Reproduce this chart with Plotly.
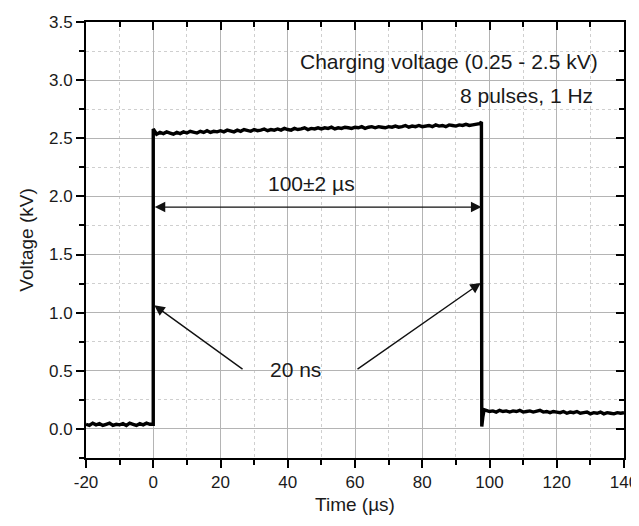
import plotly.graph_objects as go

# ---------------- data ----------------
base_t = list(range(-20, 1))
base_v = [0.04, 0.03, 0.05, 0.035, 0.045, 0.03, 0.04, 0.05, 0.03, 0.04,
          0.035, 0.045, 0.03, 0.05, 0.04, 0.03, 0.045, 0.035, 0.05, 0.04, 0.04]

pulse_t = list(range(0, 98)) + [97.6]
pulse_v = [2.58, 2.535, 2.55, 2.54, 2.555, 2.545, 2.535, 2.55, 2.54, 2.555,
           2.545, 2.56, 2.55, 2.545, 2.56, 2.55, 2.565, 2.55, 2.56, 2.555,
           2.565, 2.555, 2.57, 2.56, 2.555, 2.57, 2.56, 2.575, 2.565, 2.56,
           2.575, 2.565, 2.57, 2.58, 2.565, 2.575, 2.57, 2.58, 2.57, 2.585,
           2.575, 2.57, 2.585, 2.575, 2.58, 2.59, 2.575, 2.585, 2.58, 2.59,
           2.58, 2.59, 2.585, 2.595, 2.58, 2.59, 2.585, 2.595, 2.59, 2.585,
           2.595, 2.59, 2.6, 2.585, 2.595, 2.6, 2.59, 2.6, 2.595, 2.59,
           2.6, 2.595, 2.605, 2.595, 2.6, 2.61, 2.595, 2.605, 2.6, 2.61,
           2.6, 2.605, 2.61, 2.6, 2.615, 2.605, 2.61, 2.6, 2.615, 2.61,
           2.605, 2.615, 2.61, 2.62, 2.61, 2.615, 2.62, 2.625,
           2.64]

tail_t = [97.7, 98.0, 98.4] + list(range(99, 141))
tail_v = [0.02, 0.10, 0.165,
          0.16, 0.15, 0.155, 0.145, 0.16, 0.15, 0.155, 0.145, 0.155, 0.15,
          0.16, 0.145, 0.15, 0.155, 0.145, 0.15, 0.16, 0.145, 0.15, 0.14,
          0.15, 0.145, 0.14, 0.15, 0.135, 0.145, 0.14, 0.15, 0.135, 0.14,
          0.145, 0.13, 0.14, 0.135, 0.145, 0.13, 0.14, 0.135, 0.13, 0.14,
          0.135, 0.14]

time_us = base_t + pulse_t + tail_t
voltage_kv = base_v + pulse_v + tail_v

x_tick_vals = [-20, 0, 20, 40, 60, 80, 100, 120, 140]
x_tick_text = ["-20", "0", "20", "40", "60", "80", "100", "120", "140"]

x_range = [-20, 140]
y_range = [-0.25, 3.5]

FONT = "Arial, Liberation Sans, sans-serif"
GRID = "#b4b4b4"
MINOR_GRID = "#cfcfcf"
TXT = "#1a1a1a"

fig = go.Figure()
fig.add_trace(go.Scatter(x=time_us, y=voltage_kv, mode="lines",
                         line=dict(color="black", width=3.4),
                         showlegend=False, hoverinfo="skip"))
# dummy trace to activate mirrored axes (top / right, inward ticks)
fig.add_trace(go.Scatter(x=[None], y=[None], xaxis="x2", yaxis="y2",
                         showlegend=False, hoverinfo="skip"))

common = dict(showline=True, linewidth=2, linecolor="black", zeroline=False,
              tickcolor="black", tickwidth=1.5, automargin=False)
tick_font = dict(family=FONT, size=17, color=TXT)

# the page body adds an 8 px margin, so the figure is sized to fit the window
fig.update_layout(
    width=631, height=518,
    margin=dict(l=78, r=15, t=14, b=68),
    plot_bgcolor="white", paper_bgcolor="white",
    font=dict(family=FONT, size=17, color=TXT),
    showlegend=False,
    xaxis=dict(range=x_range, tickmode="array", tickvals=x_tick_vals,
               ticktext=x_tick_text, ticks="outside", ticklen=8,
               showgrid=True, gridcolor=GRID, gridwidth=1,
               minor=dict(dtick=10, tick0=0, ticks="outside", ticklen=5,
                          tickcolor="black", showgrid=True,
                          gridcolor=MINOR_GRID, griddash="dot"),
               title=dict(text="Time (µs)", font=dict(family=FONT, size=19, color=TXT),
                          standoff=6),
               tickfont=tick_font, **common),
    yaxis=dict(range=y_range, dtick=0.5, tick0=0, tickformat=".1f",
               ticks="outside", ticklen=8,
               showgrid=True, gridcolor=GRID, gridwidth=1,
               minor=dict(dtick=0.25, tick0=0, ticks="outside", ticklen=5,
                          tickcolor="black", showgrid=True,
                          gridcolor=MINOR_GRID, griddash="dot"),
               title=dict(text="Voltage (kV)", font=dict(family=FONT, size=19, color=TXT),
                          standoff=10),
               tickfont=tick_font, **common),
    xaxis2=dict(range=x_range, overlaying="x", side="top", dtick=20, tick0=0,
                ticks="inside", ticklen=8, showticklabels=False, showgrid=False,
                minor=dict(dtick=10, tick0=0, ticks="inside", ticklen=5,
                           tickcolor="black", showgrid=False),
                **common),
    yaxis2=dict(range=y_range, overlaying="y", side="right", dtick=0.5, tick0=0,
                ticks="inside", ticklen=8, showticklabels=False, showgrid=False,
                minor=dict(dtick=0.25, tick0=0, ticks="inside", ticklen=5,
                           tickcolor="black", showgrid=False),
                **common),
)

ann_font = dict(family=FONT, size=21, color=TXT)
annotations = [
    dict(x=132.9, y=3.158, text="Charging voltage (0.25 - 2.5 kV)",
         xanchor="right", yanchor="middle", showarrow=False, font=ann_font),
    dict(x=131.4, y=2.872, text="8 pulses, 1 Hz",
         xanchor="right", yanchor="middle", showarrow=False, font=ann_font),
    dict(x=47.2, y=2.11, text="100±2 µs",
         xanchor="center", yanchor="middle", showarrow=False, font=ann_font),
    dict(x=42.2, y=0.514, text="20 ns",
         xanchor="center", yanchor="middle", showarrow=False, font=ann_font),
    # double arrow (pulse width)
    dict(x=97.6, y=1.908, ax=0.0, ay=1.908, axref="x", ayref="y",
         xref="x", yref="y", text="", showarrow=True, arrowside="end+start",
         arrowhead=2, arrowsize=1.5, arrowwidth=1.4, arrowcolor="#111111"),
    # rise-time arrows
    dict(x=0.3, y=1.063, ax=27.0, ay=0.505, axref="x", ayref="y",
         xref="x", yref="y", text="", showarrow=True,
         arrowhead=2, arrowsize=1.5, arrowwidth=1.4, arrowcolor="#111111"),
    dict(x=97.4, y=1.256, ax=60.3, ay=0.505, axref="x", ayref="y",
         xref="x", yref="y", text="", showarrow=True,
         arrowhead=2, arrowsize=1.5, arrowwidth=1.4, arrowcolor="#111111"),
]
fig.update_layout(annotations=annotations)

fig.write_html("out.html")
